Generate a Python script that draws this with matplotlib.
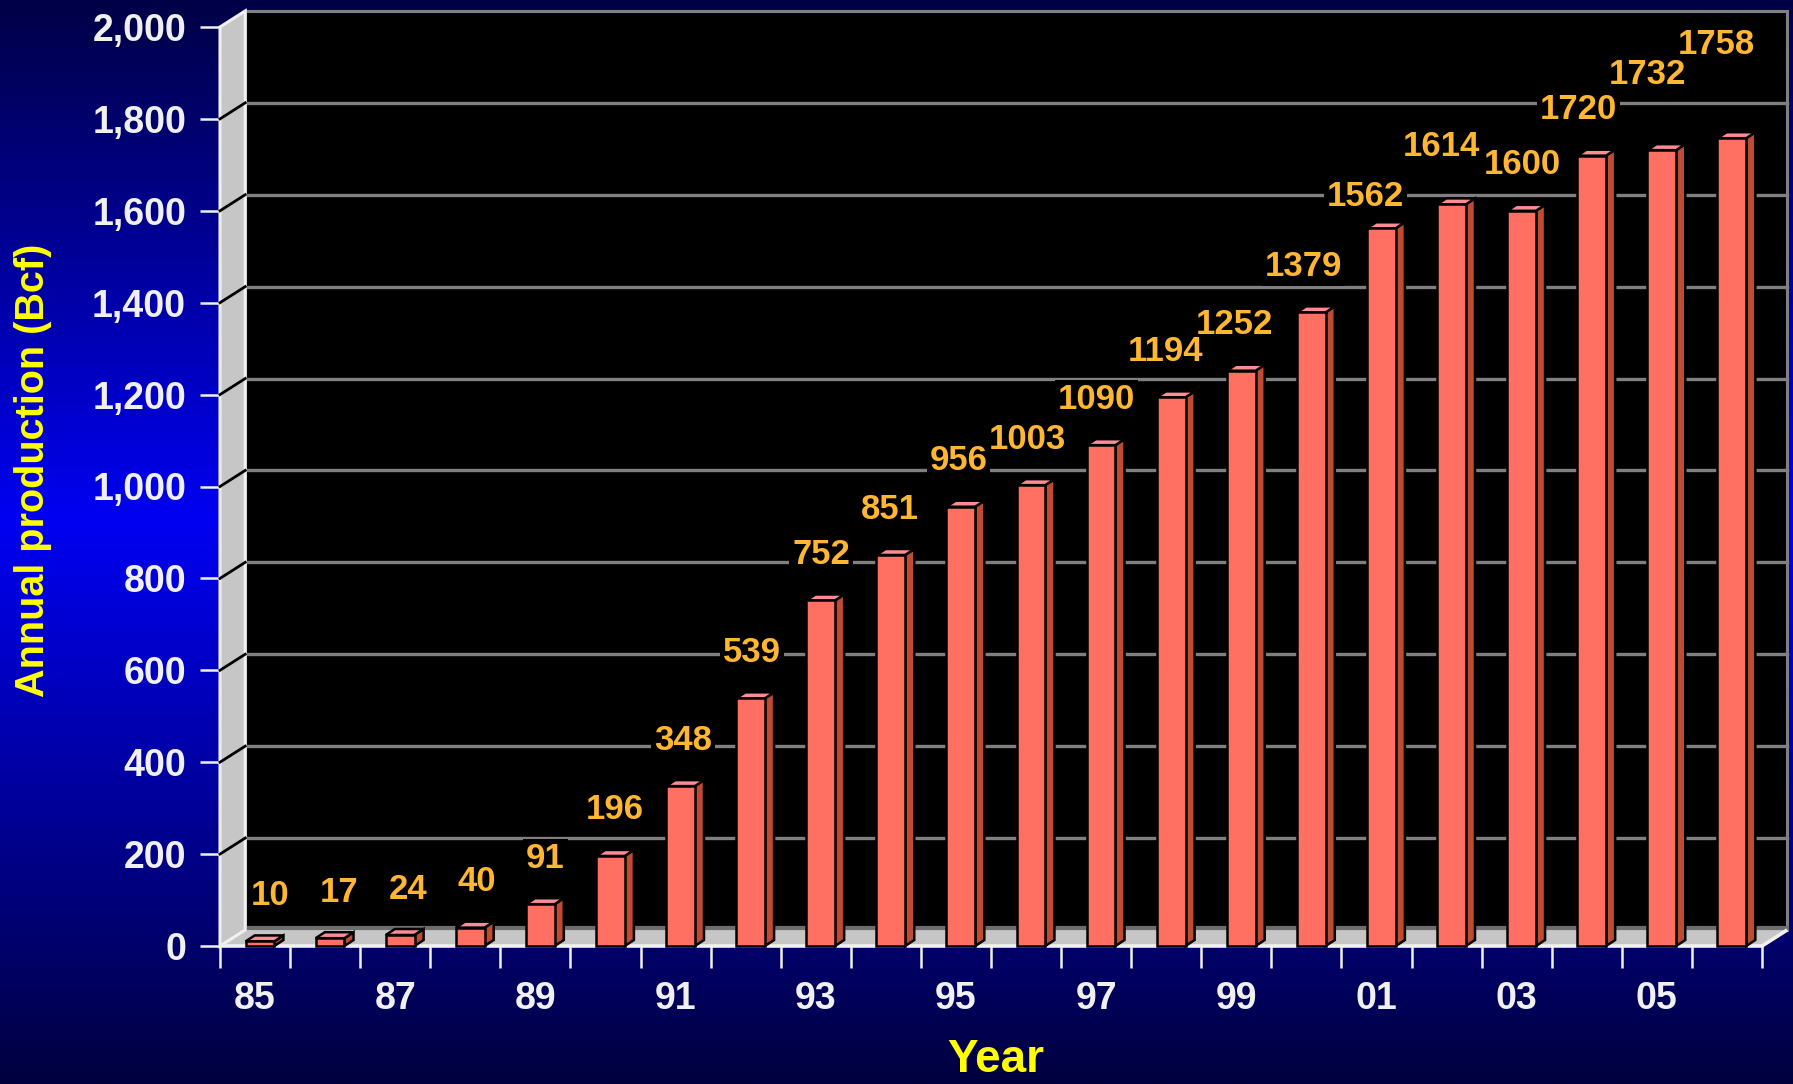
"""Annual production bar chart, 1985-2006, drawn as a pseudo-3D column chart."""

import matplotlib.pyplot as plt
import numpy as np
from matplotlib.colors import LinearSegmentedColormap
from matplotlib.patches import Polygon, Rectangle
from matplotlib.ticker import FixedLocator, NullFormatter

plt.rcParams["font.family"] = ["Liberation Sans", "DejaVu Sans"]
plt.rcParams["font.weight"] = "bold"

# ---------------------------------------------------------------- data
YEARS = ["85", "86", "87", "88", "89", "90", "91", "92", "93", "94", "95",
         "96", "97", "98", "99", "00", "01", "02", "03", "04", "05", "06"]
PRODUCTION = [10, 17, 24, 40, 91, 196, 348, 539, 752, 851, 956,
              1003, 1090, 1194, 1252, 1379, 1562, 1614, 1600, 1720, 1732, 1758]
Y_TICKS = [0, 200, 400, 600, 800, 1000, 1200, 1400, 1600, 1800, 2000]

# ---------------------------------------------------------------- style
W_PX, H_PX, DPI = 1793, 1084, 100
AX_LEFT, AX_RIGHT, AX_TOP, AX_BOTTOM = 220, 1762, 27, 946  # pixels

DEPTH_X = 0.36      # wall depth, in category units
DEPTH_Y = 35        # wall depth, in data units
BAR_W = 0.41
BAR_SHIFT = 0.07
BAR_DX = 0.13       # bar side depth
BAR_DY = 13

LABEL_PAD = 100
LABEL_SIZE = 25
LABEL_X0 = 0.21      # label drift: right of the bar at the left end,
LABEL_XSTEP = 0.017  # slightly left of it at the right end
# hand nudges where neighbouring labels crowd each other
LABEL_LIFT = {16: -30, 17: 25, 20: 65, 21: 105}
LABEL_SLIDE = {16: -0.1, 18: 0.17}

FRONT = "#FF7062"
SIDE = "#BE4B32"
TOP = "#FF8C96"
LABEL_COLOR = "#FFB732"
TITLE_COLOR = "#FFFF00"
TICK_COLOR = "#F0F0F0"
WALL = "#C6C6C6"
GRID = "#808080"


def _background(fig):
    cmap = LinearSegmentedColormap.from_list(
        "navy", [(0.0, "#000046"), (0.2, "#00008C"), (0.48, "#0000F2"),
                 (0.75, "#000096"), (1.0, "#00003E")])
    grad = np.linspace(0, 1, 512).reshape(-1, 1)
    bg = fig.add_axes([0, 0, 1, 1], zorder=-10)
    bg.imshow(grad, aspect="auto", cmap=cmap, extent=[0, 1, 0, 1],
              interpolation="bicubic")
    bg.axis("off")


def _main() -> None:
    n = len(YEARS)
    ymax = Y_TICKS[-1]

    fig = plt.figure(figsize=(W_PX / DPI, H_PX / DPI), dpi=DPI)
    _background(fig)

    ax = fig.add_axes([AX_LEFT / W_PX, (H_PX - AX_BOTTOM) / H_PX,
                       (AX_RIGHT - AX_LEFT) / W_PX,
                       (AX_BOTTOM - AX_TOP) / H_PX])
    ax.patch.set_alpha(0)
    for s in ax.spines.values():
        s.set_visible(False)
    ax.set_xlim(0, n)
    ax.set_ylim(0, ymax)

    # back wall with its grid
    ax.add_patch(Rectangle((DEPTH_X, DEPTH_Y), n, ymax, facecolor="black",
                           edgecolor=GRID, lw=2.2, clip_on=False, zorder=1))
    for v in Y_TICKS[1:-1]:
        ax.plot([DEPTH_X, n + DEPTH_X], [v + DEPTH_Y] * 2, color=GRID,
                lw=2.4, clip_on=False, zorder=1.5)

    # floor
    ax.add_patch(Polygon([(0, 0), (n, 0), (n + DEPTH_X, DEPTH_Y),
                          (DEPTH_X, DEPTH_Y)], closed=True, facecolor=WALL,
                         edgecolor="none", clip_on=False, zorder=1.6))
    ax.plot([DEPTH_X, n + DEPTH_X], [DEPTH_Y + 4] * 2, color="#6E6E6E",
            lw=3, clip_on=False, zorder=1.7)
    ax.plot([0, n, n + DEPTH_X], [0, 0, DEPTH_Y], color=TICK_COLOR, lw=2.6,
            clip_on=False, zorder=2.5, solid_capstyle="butt")

    # side wall
    ax.add_patch(Polygon([(0, 0), (DEPTH_X, DEPTH_Y), (DEPTH_X, ymax + DEPTH_Y),
                          (0, ymax)], closed=True, facecolor=WALL,
                         edgecolor=TICK_COLOR, lw=2.2, clip_on=False,
                         zorder=1.8))
    for v in Y_TICKS[1:-1]:
        ax.plot([0, DEPTH_X], [v, v + DEPTH_Y], color="black", lw=2,
                clip_on=False, zorder=1.9)

    # bars
    for i, v in enumerate(PRODUCTION):
        x0 = i + (1 - BAR_W) / 2 + BAR_SHIFT
        x1 = x0 + BAR_W
        ax.add_patch(Polygon([(x1, 0), (x1 + BAR_DX, BAR_DY),
                              (x1 + BAR_DX, v + BAR_DY), (x1, v)],
                             closed=True, facecolor=SIDE, edgecolor="black",
                             lw=1.8, clip_on=False, zorder=3))
        ax.add_patch(Polygon([(x0, v), (x1, v), (x1 + BAR_DX, v + BAR_DY),
                              (x0 + BAR_DX, v + BAR_DY)], closed=True,
                             facecolor=TOP, edgecolor="black", lw=1.8,
                             clip_on=False, zorder=3))
        ax.add_patch(Rectangle((x0, 0), BAR_W, v, facecolor=FRONT,
                               edgecolor="black", lw=1.8, clip_on=False,
                               zorder=3.1))

        # value label: a black knock-out box behind, text on top of all boxes
        lx = i + 0.5 + LABEL_X0 - LABEL_XSTEP * i + LABEL_SLIDE.get(i, 0)
        ly = v + LABEL_PAD + LABEL_LIFT.get(i, 0)
        ax.text(lx, ly, str(v), ha="center", va="center", fontsize=LABEL_SIZE,
                fontweight="bold", color="black", zorder=3.5,
                bbox=dict(facecolor="black", edgecolor="none", pad=2))
        ax.text(lx, ly, str(v), ha="center", va="center", fontsize=LABEL_SIZE,
                fontweight="bold", color=LABEL_COLOR, zorder=4)

    # y axis
    ax.set_yticks(Y_TICKS)
    ax.set_yticklabels([f"{v:,}" for v in Y_TICKS])
    ax.tick_params(axis="y", direction="out", length=14.4, width=1.8,
                   color=TICK_COLOR, labelcolor=TICK_COLOR, labelsize=27,
                   pad=10)

    # x axis: ticks at category edges, labels every other year
    ax.xaxis.set_major_locator(FixedLocator(np.arange(n + 1)))
    ax.xaxis.set_major_formatter(NullFormatter())
    centers = np.arange(0, n, 2) + 0.5
    ax.xaxis.set_minor_locator(FixedLocator(centers))
    ax.set_xticklabels(YEARS[::2], minor=True)
    ax.tick_params(axis="x", which="major", direction="out", length=16,
                   width=1.8, color=TICK_COLOR)
    ax.tick_params(axis="x", which="minor", length=0, pad=25.5,
                   labelcolor=TICK_COLOR, labelsize=27)

    ax.set_ylabel("Annual production (Bcf)", fontsize=28.5, fontweight="bold",
                  color=TITLE_COLOR)
    ax.yaxis.set_label_coords(-0.121, 0.518)
    ax.yaxis.label.set_va("center")
    ax.set_xlabel("Year", fontsize=33, fontweight="bold", color=TITLE_COLOR)
    ax.xaxis.set_label_coords(0.503, -0.1372)
    ax.xaxis.label.set_va("baseline")

    fig.savefig("out.png", dpi=DPI)


if __name__ == "__main__":
    _main()
